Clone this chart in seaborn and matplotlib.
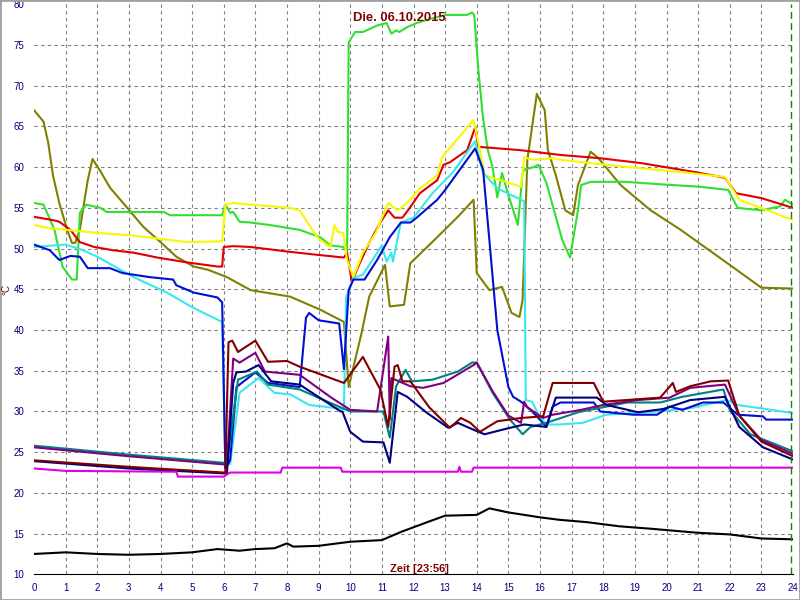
"""
Temperaturverlauf eines Tages (Heizungs-Logger), nachgebaut mit seaborn.
"""

import matplotlib

matplotlib.use("Agg")
import matplotlib.pyplot as plt
import matplotlib.patches as mpatches
from matplotlib.ticker import MultipleLocator
import pandas as pd
import seaborn as sns

# ---------------------------------------------------------------- data
olive_h = [0, 0.3, 0.45, 0.6, 0.8, 1.05, 1.2, 1.3, 1.45, 1.6, 1.7, 1.85, 2.1, 2.4, 2.95,
           3.45, 4.0, 4.5, 5.05, 5.5, 6.1, 6.85, 8.1, 9.05, 9.8, 9.95, 10.35, 10.6, 11.1,
           11.25, 11.7, 11.9, 12.75, 13.45, 13.9, 14.0, 14.4, 14.8, 15.1, 15.35, 15.45,
           15.6, 15.9, 16.15, 16.25, 16.5, 16.8, 17.05, 17.2, 17.6, 17.85, 18.55, 19.5,
           20.45, 21.1, 22.0, 23.0, 24.0]
olive_t = [67.0, 65.6, 63.0, 59.0, 55.6, 52.3, 50.7, 50.7, 52.3, 56.0, 58.4, 61.0, 59.5, 57.5,
           55.0, 52.7, 50.8, 49.0, 47.8, 47.4, 46.5, 44.9, 44.1, 42.5, 41.0, 33.0, 39.5, 44.1,
           48.0, 42.9, 43.1, 48.2, 51.4, 54.1, 56.0, 47.0, 44.9, 45.3, 42.1, 41.6, 43.7,
           60.9, 69.0, 67.0, 62.1, 59.0, 54.7, 54.1, 57.8, 61.9, 61.1, 57.8, 54.7,
           52.3, 50.5, 48.0, 45.2, 45.1]

green_h = [0, 0.3, 0.65, 0.9, 1.2, 1.35, 1.45, 1.65, 2.1, 2.3, 4.1, 4.3, 5.95, 6.05, 6.2,
           6.3, 6.5, 6.85, 7.45, 8.4, 9.05, 9.37, 9.78, 9.9, 9.95, 10.15, 10.4, 10.85, 11.15,
           11.3, 11.45, 11.55, 11.8, 12.1, 12.6, 13.05, 13.7, 13.85, 13.92, 14.05, 14.2,
           14.35, 14.5, 14.65, 14.8, 14.95, 15.3, 15.45, 15.5, 15.8, 15.95, 16.2, 16.7,
           16.95, 17.2, 17.3, 17.6, 18.7, 19.8, 21.05, 21.95, 22.25, 23.0, 23.6, 23.75, 24.0]
green_t = [55.6, 55.4, 52.3, 47.8, 46.2, 46.2, 54.4, 55.4, 55.0, 54.5, 54.5, 54.1, 54.1, 55.4,
           54.4, 54.5, 53.3, 53.2, 52.9, 52.3, 51.4, 50.4, 50.2, 49.5, 75.3, 76.6, 76.6, 77.4,
           77.7, 76.4, 76.8, 76.6, 77.2, 77.7, 78.3, 78.7, 78.7, 79.0, 78.7, 72.0, 66.0,
           62.1, 60.0, 56.3, 59.3, 57.2, 52.9, 59.3, 59.7, 60.0, 60.3, 58.1, 51.1,
           48.9, 54.7, 57.8, 58.2, 58.2, 57.9, 57.6, 57.2, 55.0, 54.7, 55.2, 56.0, 55.4]

red_h = [0, 0.6, 0.8, 1.15, 1.45, 1.9, 2.5, 3.15, 3.9, 4.85, 5.8, 5.95, 6.0, 6.3, 6.85, 8.1,
         9.05, 9.8, 9.9, 10.05, 10.3, 10.6, 10.95, 11.2, 11.4, 11.65, 11.9, 12.2, 12.75,
         12.95, 13.15, 13.7, 13.95, 14.05, 15.35, 16.65, 17.9, 19.2, 21.05, 21.85, 22.2,
         23.0, 24.0]
red_t = [53.9, 53.5, 53.3, 52.3, 50.8, 50.2, 49.8, 49.5, 48.9, 48.3, 47.8, 47.8, 50.2, 50.3,
         50.2, 49.6, 49.2, 48.9, 49.5, 45.9, 48.2, 50.7, 53.2, 54.7, 53.8, 53.8, 55.1, 56.8,
         58.4, 60.3, 60.6, 62.1, 64.9, 62.5, 62.1, 61.5, 61.1, 60.5, 59.3, 58.7, 56.8,
         56.2, 55.0]

yellow_h = [0, 0.5, 1.05, 2.1, 3.15, 4.2, 4.85, 5.95, 6.05, 6.3, 6.85, 8.1, 8.4, 8.7, 9.0,
            9.37, 9.5, 9.6, 9.78, 9.9, 10.1, 10.4, 10.8, 11.2, 11.5, 11.8, 12.2, 12.75, 12.9,
            13.9, 14.1, 14.25, 14.75, 15.4, 15.5, 15.8, 16.4, 16.65, 18.55, 20.45, 21.85,
            22.3, 24.0]
yellow_t = [52.9, 52.5, 52.3, 51.9, 51.6, 51.1, 50.8, 50.9, 55.4, 55.6, 55.4, 55.0, 54.7, 52.9,
            51.2, 50.2, 52.9, 52.1, 51.9, 48.6, 46.5, 49.5, 51.9, 55.6, 54.7, 55.6, 57.4, 59.0,
            61.2, 65.8, 62.1, 59.0, 58.4, 57.6, 61.2, 60.9, 61.1, 60.9, 60.1, 59.4, 58.8,
            56.0, 53.5]

cyan_h = [0, 1.0, 1.55, 2.0, 3.15, 4.2, 5.05, 5.95, 6.05, 6.2, 6.5, 7.1, 7.6, 8.1, 8.7, 9.15,
          9.8, 9.87, 10.1, 10.4, 11.0, 11.15, 11.3, 11.35, 11.6, 12.0, 12.6, 13.25, 13.95,
          14.2, 14.65, 15.4, 15.5, 15.55, 15.75, 15.95, 16.2, 16.6, 17.35, 18.1, 19.7,
          20.75, 21.9, 22.25, 24.0]
cyan_t = [50.2, 50.5, 49.8, 49.0, 46.5, 44.6, 42.7, 41.0, 24.0, 23.5, 32.3, 34.1, 32.3, 32.1,
          30.8, 30.6, 30.3, 44.0, 46.4, 46.8, 50.4, 48.4, 49.5, 48.4, 53.2, 53.8, 56.8, 59.4,
          63.2, 59.3, 57.4, 56.0, 55.8, 31.4, 31.2, 29.6, 28.4, 28.4, 28.6, 29.6, 30.0,
          30.4, 31.4, 30.8, 29.8]

blue_h = [0, 0.5, 0.8, 1.15, 1.45, 1.7, 2.4, 2.8, 3.65, 4.4, 4.5, 5.05, 5.8, 5.95, 6.05, 6.2,
          6.4, 7.0, 7.4, 8.4, 8.6, 8.7, 9.0, 9.65, 9.8, 9.95, 10.1, 10.45, 10.85, 11.25,
          11.6, 11.9, 12.1, 12.75, 13.0, 13.95, 14.2, 14.4, 14.65, 14.9, 15.0, 15.15, 15.4,
          15.7, 15.95, 16.2, 16.4, 16.65, 17.7, 17.9, 18.95, 19.7, 20.1, 20.5, 21.15, 21.8,
          22.25, 23.05, 23.15, 24.0]
blue_t = [50.5, 49.8, 48.6, 49.1, 49.0, 47.6, 47.6, 47.0, 46.5, 46.2, 45.5, 44.6, 44.0, 43.4,
          23.0, 24.0, 33.0, 34.8, 33.5, 33.0, 41.5, 42.1, 41.2, 40.8, 35.2, 44.9, 46.2, 46.2,
          48.6, 51.4, 53.2, 53.2, 53.8, 56.0, 57.2, 62.3, 59.7, 51.0, 40.0, 35.0, 33.0, 31.8,
          31.2, 30.2, 29.2, 28.1, 30.6, 31.1, 31.1, 30.0, 29.6, 29.6, 30.6, 30.2, 31.1, 31.1,
          29.6, 29.4, 29.0, 29.0]

navy_h = [0, 3.0, 6.0, 6.1, 6.3, 6.4, 6.7, 7.1, 7.5, 8.4, 9.7, 9.75, 10.0, 10.4, 11.05,
          11.25, 11.5, 11.8, 12.4, 13.1, 13.4, 14.05, 14.25, 14.85, 15.5, 16.2, 16.5, 17.8,
          18.1, 19.1, 19.9, 20.75, 21.85, 22.3, 23.05, 24.0]
navy_t = [23.9, 23.0, 22.4, 22.4, 33.5, 34.8, 34.9, 35.7, 33.7, 33.3, 30.0, 30.0, 27.5, 26.3,
          26.2, 23.7, 32.4, 31.8, 29.9, 28.0, 28.6, 27.5, 27.2, 27.8, 28.4, 28.1, 31.7, 31.7,
          30.8, 29.9, 30.3, 31.4, 31.8, 28.1, 25.6, 24.1]

teal_h = [0, 3.0, 6.0, 6.1, 6.45, 7.05, 7.4, 8.4, 9.7, 10.0, 11.05, 11.25, 11.45, 11.75,
          11.95, 12.6, 13.4, 13.85, 14.0, 14.5, 15.05, 15.45, 15.7, 16.2, 17.2, 18.75, 19.8,
          20.5, 21.8, 22.0, 22.65, 24.0]
teal_t = [25.8, 24.7, 23.7, 23.7, 33.9, 34.9, 33.3, 32.7, 30.5, 30.0, 30.0, 26.8, 33.1, 35.1,
          33.7, 33.9, 34.9, 36.0, 36.0, 32.3, 29.0, 27.2, 28.1, 28.6, 29.9, 31.1, 31.1,
          31.8, 32.7, 30.2, 27.2, 25.1]

purple_h = [0, 3.0, 6.0, 6.1, 6.3, 6.5, 7.0, 7.3, 8.4, 9.4, 10.0, 10.85, 11.2, 11.25, 11.3,
            11.9, 12.3, 12.95, 13.9, 14.0, 14.5, 15.0, 15.4, 15.5, 15.6, 16.1, 16.4, 17.3,
            18.0, 19.1, 20.1, 20.75, 21.85, 22.3, 23.0, 24.0]
purple_t = [25.6, 24.5, 23.5, 23.5, 36.5, 36.0, 37.2, 34.9, 34.5, 31.7, 30.2, 30.0, 39.2, 29.0,
            34.1, 33.1, 32.9, 33.5, 35.7, 36.0, 32.5, 29.5, 28.6, 31.2, 30.5, 29.2, 29.6, 30.2,
            30.8, 31.4, 31.7, 32.9, 33.3, 29.5, 26.5, 24.8]

maroon_h = [0, 3.0, 6.0, 6.05, 6.15, 6.27, 6.45, 7.0, 7.4, 8.0, 8.4, 9.8, 10.4, 10.95, 11.2,
            11.4, 11.5, 11.65, 11.9, 12.5, 13.15, 13.5, 13.8, 14.1, 14.65, 15.4, 16.1, 16.4,
            17.7, 18.0, 19.8, 20.2, 20.3, 20.75, 21.4, 21.95, 22.3, 23.0, 24.0]
maroon_t = [24.0, 23.2, 22.5, 22.5, 38.5, 38.7, 37.3, 38.7, 36.1, 36.2, 35.5, 33.5, 36.7, 32.7,
            28.1, 35.5, 35.7, 33.7, 33.7, 30.5, 28.0, 29.2, 28.6, 27.5, 28.8, 29.2, 29.4, 33.5,
            33.5, 31.2, 31.7, 33.5, 32.4, 33.1, 33.7, 33.8, 29.5, 26.3, 24.5]

magenta_h = [0, 1.0, 4.5, 4.55, 6.0, 6.2, 7.8, 7.85, 9.7, 9.75, 13.4, 13.45, 13.5, 13.85,
             13.9, 24.0]
magenta_t = [23.0, 22.7, 22.6, 22.0, 22.0, 22.5, 22.5, 23.1, 23.1, 22.6, 22.6, 23.2, 22.6,
             22.6, 23.1, 23.1]

black_h = [0, 1.0, 2.0, 3.0, 4.0, 5.0, 5.8, 6.5, 7.0, 7.6, 8.0, 8.2, 9.0, 10.0, 11.0, 11.6,
           12.5, 13.0, 14.0, 14.4, 15.0, 16.0, 16.6, 17.5, 18.5, 19.5, 21.0, 22.0, 23.0, 24.0]
black_t = [12.5, 12.7, 12.5, 12.4, 12.5, 12.7, 13.1, 12.9, 13.1, 13.2, 13.8, 13.4, 13.5, 14.0,
           14.2, 15.2, 16.5, 17.2, 17.3, 18.1, 17.6, 17.0, 16.7, 16.4, 15.9, 15.6, 15.1,
           14.9, 14.4, 14.3]

sensor_data = {
    "olive": (olive_h, olive_t),
    "green": (green_h, green_t),
    "red": (red_h, red_t),
    "yellow": (yellow_h, yellow_t),
    "cyan": (cyan_h, cyan_t),
    "blue": (blue_h, blue_t),
    "teal": (teal_h, teal_t),
    "purple": (purple_h, purple_t),
    "navy": (navy_h, navy_t),
    "maroon": (maroon_h, maroon_t),
    "magenta": (magenta_h, magenta_t),
    "black": (black_h, black_t),
}

colors = {
    "olive": "#808000",
    "green": "#30e030",
    "red": "#e00000",
    "yellow": "#f8f800",
    "cyan": "#38e8f0",
    "blue": "#0010d0",
    "teal": "#008080",
    "purple": "#800080",
    "navy": "#000080",
    "maroon": "#800000",
    "magenta": "#e000e0",
    "black": "#000000",
}

frames = [pd.DataFrame({"Zeit": h, "Temp": t, "Sensor": name})
          for name, (h, t) in sensor_data.items()]
df = pd.concat(frames, ignore_index=True)

# ---------------------------------------------------------------- plot
sns.set_style("white")
plt.rcParams["font.family"] = ["Liberation Sans", "DejaVu Sans"]

fig = plt.figure(figsize=(8, 6), dpi=100)
ax = fig.add_axes([0.0425, 0.0428, 0.94875, 0.95])

# dashed grid, only the inner lines
for h in range(1, 24):
    ax.axvline(h, color="#808080", linestyle=(0, (3, 3)), linewidth=0.8, zorder=0)
for v in range(15, 80, 5):
    ax.axhline(v, color="#808080", linestyle=(0, (3, 3)), linewidth=0.8, zorder=0)

sns.lineplot(
    data=df,
    x="Zeit",
    y="Temp",
    hue="Sensor",
    hue_order=list(sensor_data.keys()),
    palette=colors,
    sort=False,
    estimator=None,
    linewidth=1.5,
    legend=False,
    ax=ax,
)

# current time marker
ax.axvline(23.95, color="#108010", linestyle=(0, (5, 3)), linewidth=1.0)

ax.set_xlim(0, 24)
ax.set_ylim(10, 80)
ax.xaxis.set_major_locator(MultipleLocator(1))
ax.xaxis.set_minor_locator(MultipleLocator(0.1))
ax.yaxis.set_major_locator(MultipleLocator(5))
ax.yaxis.set_minor_locator(MultipleLocator(1))
ax.tick_params(axis="x", which="major", direction="inout", length=8, width=0.8,
               colors="#000000", labelcolor="#000080", labelsize=7, pad=2)
ax.tick_params(axis="x", which="minor", direction="out", length=3, width=0.8,
               colors="#000000")
ax.tick_params(axis="y", which="major", direction="out", length=6, width=0.8,
               colors="#000000", labelcolor="#000080", labelsize=7, pad=1)
ax.tick_params(axis="y", which="minor", direction="out", length=3, width=0.8,
               colors="#000000")
ax.set_xlabel("")
ax.set_ylabel("")
for side in ["left", "top", "right"]:
    ax.spines[side].set_visible(False)
ax.spines["bottom"].set_color("#000000")
ax.spines["bottom"].set_linewidth(0.8)

fig.text(0.499, 0.97, "Die. 06.10.2015", ha="center", va="center",
         color="#800000", fontsize=9.4, fontweight="bold")
fig.text(0.524, 0.052, "Zeit [23:56]", ha="center", va="center",
         color="#800000", fontsize=8, fontweight="bold")
fig.text(0.0085, 0.517, "°C", ha="center", va="center", rotation=90,
         color="#800000", fontsize=7)

fig.patches.append(mpatches.Rectangle((0, 0), 1, 1, transform=fig.transFigure,
                                      fill=False, edgecolor="#a0a0a0", linewidth=2))

fig.savefig("out.png", dpi=100)
